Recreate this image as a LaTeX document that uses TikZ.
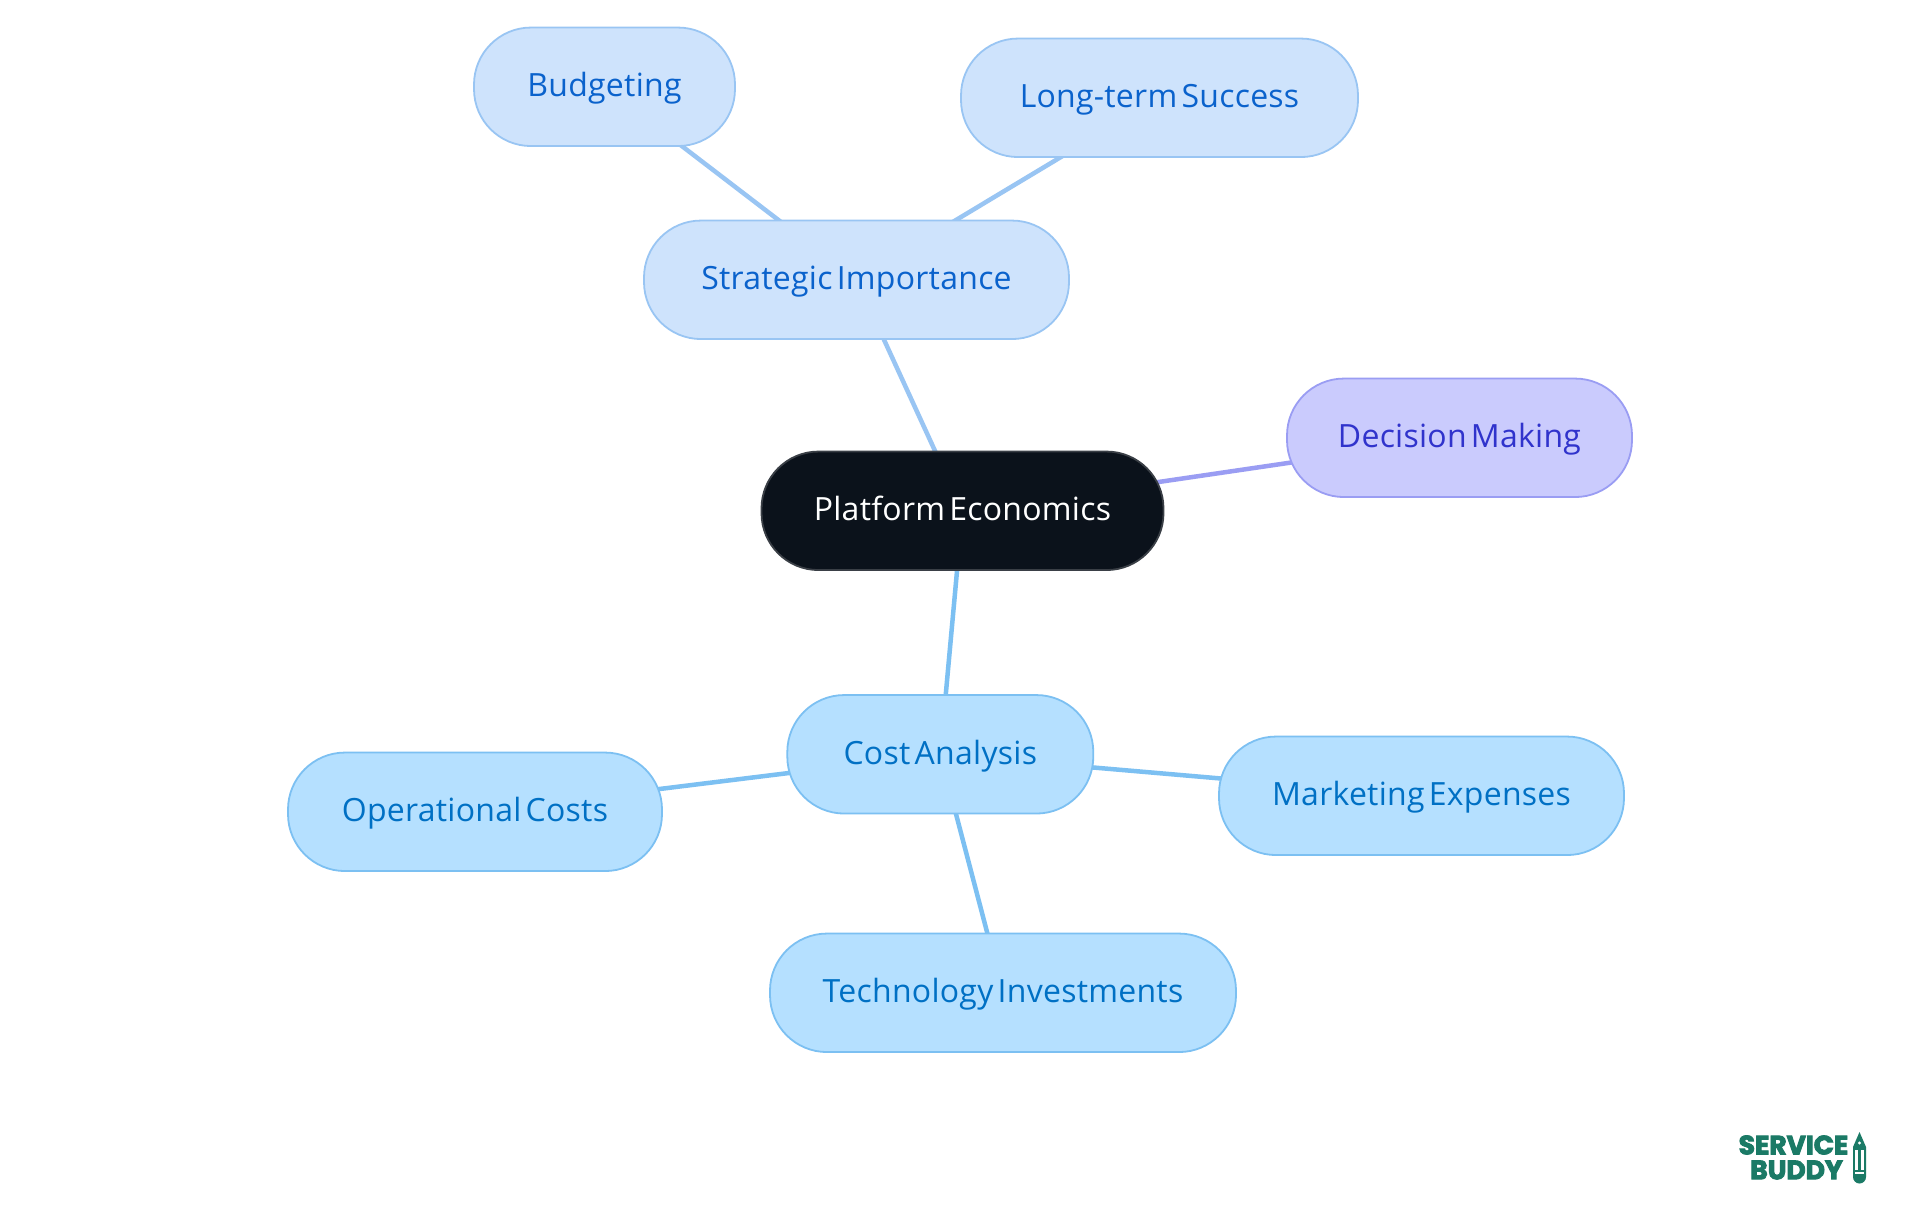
\documentclass[tikz,border=0pt]{standalone}
\usepackage{fontspec}
\setmainfont[WordSpace=0.5,LetterSpace=0.8]{Open Sans}
\newfontfamily\logofont[UprightFont=* Bold,FakeBold=3.5]{Poppins}
\usetikzlibrary{backgrounds}
\definecolor{stfill}{HTML}{CEE3FC}
\definecolor{stline}{HTML}{99C5F3}
\definecolor{sttext}{HTML}{0A62CC}
\definecolor{cofill}{HTML}{B5E0FF}
\definecolor{coline}{HTML}{7CC0F2}
\definecolor{cotext}{HTML}{0070C4}
\definecolor{defill}{HTML}{CACBFD}
\definecolor{deline}{HTML}{9A9DF3}
\definecolor{detext}{HTML}{3033CC}
\definecolor{rootfill}{HTML}{0B121B}
\definecolor{rootline}{HTML}{3A3F46}
\definecolor{logocol}{HTML}{1B7A66}
\tikzset{
  x=1pt,y=-1pt,
  pill/.style={rounded corners=57pt,line width=1.8pt,inner sep=0pt,minimum height=118.5pt,text height=26pt,text depth=6pt,font=\fontsize{32}{36}\selectfont},
  stnode/.style={pill,fill=stfill,draw=stline,text=sttext},
  conode/.style={pill,fill=cofill,draw=coline,text=cotext},
  denode/.style={pill,fill=defill,draw=deline,text=detext},
  rootnode/.style={pill,fill=rootfill,draw=rootline,text=white},
  stedge/.style={draw=stline,line width=4.5pt},
  coedge/.style={draw=coline,line width=4.5pt},
  deedge/.style={draw=deline,line width=4.5pt},
  logotext/.style={inner sep=0pt,text=logocol,font=\logofont\fontsize{26.5}{27}\selectfont},
}
\begin{document}
\begin{tikzpicture}
\useasboundingbox (0,0) rectangle (1920,1215);
\node[rootnode,minimum width=402pt] (root) at (962.5,510.8) {Platform Economics};
\node[stnode,minimum width=425pt] (strategic) at (856.5,279.8) {Strategic Importance};
\node[stnode,minimum width=261pt] (budget) at (604.5,86.8) {Budgeting};
\node[stnode,minimum width=397pt] (longterm) at (1159.5,97.8) {Long-term Success};
\node[denode,minimum width=345pt] (decision) at (1459.5,437.8) {Decision Making};
\node[conode,minimum width=306pt] (cost) at (940.3,754.3) {Cost Analysis};
\node[conode,minimum width=405pt] (marketing) at (1421.5,795.8) {Marketing Expenses};
\node[conode,minimum width=374pt] (operational) at (475,811.8) {Operational Costs};
\node[conode,minimum width=466pt] (tech) at (1003,992.8) {Technology Investments};
\begin{scope}[on background layer]
\fill[white] (0,0) rectangle (1920,1215);
\draw[stedge] (root.center) -- (strategic.center);
\draw[stedge] (strategic.center) -- (budget.center);
\draw[stedge] (strategic.center) -- (longterm.center);
\draw[deedge] (root.center) -- (decision.center);
\draw[coedge] (root.center) -- (cost.center);
\draw[coedge] (cost.center) -- (marketing.center);
\draw[coedge] (cost.center) -- (operational.center);
\draw[coedge] (cost.center) -- (tech.center);
\end{scope}
\node[logotext] (logoa) at (1793.5,1145) {SERVICE};
\node[logotext] (logob) at (1796.5,1170) {BUDDY};
% pencil
\fill[logocol] (1859.5,1132) -- (1866,1147) -- (1866,1177) arc[start angle=0,end angle=180,radius=6.5] -- (1853,1147) -- cycle;
\fill[white] (1859.5,1143) circle (1.6);
\fill[white] (1855,1150) rectangle (1858.2,1170);
\fill[white] (1860.8,1150) rectangle (1864,1170);
\fill[white] (1855,1172) rectangle (1864,1174);
\end{tikzpicture}
\end{document}
